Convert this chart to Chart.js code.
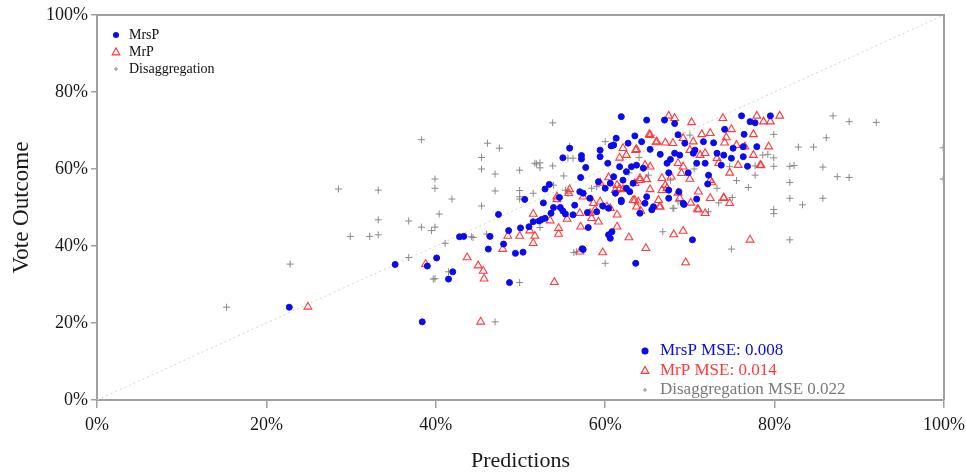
<!DOCTYPE html>
<html>
<head>
<meta charset="utf-8">
<script src="https://cdn.jsdelivr.net/npm/chart.js@4.4.0/dist/chart.umd.min.js"></script>
<style>
  html, body { margin: 0; padding: 0; background: #fff; }
  #wrap { width: 966px; height: 474px; }
</style>
</head>
<body>
<div id="wrap"><canvas id="chart-canvas" width="966" height="474"></canvas></div>
<script>
// [prediction %, vote outcome %] per district
const mrsp = [
  [22.7,24.1],[35.2,35.2],[39.0,34.8],[40.1,36.9],[38.4,20.3],[42.8,42.4],[43.3,42.5],[46.4,42.5],
  [46.2,39.2],[47.4,48.2],[42.0,33.3],[41.5,31.4],[48.6,44.0],[48.0,40.5],[49.4,38.1],[50.3,38.4],
  [48.7,30.5],[50.0,44.7],[50.5,52.1],[51.0,45.0],[51.5,46.3],[52.2,46.5],[52.5,46.9],[52.9,47.2],
  [52.7,51.2],[53.6,48.5],[52.9,54.8],[53.4,56.0],[53.9,50.0],[54.6,52.6],[54.7,50.0],[55.0,49.1],
  [55.3,48.3],[56.4,50.6],[56.2,48.1],[55.0,62.9],[57.2,63.5],[57.2,62.6],[57.7,60.4],[57.1,57.8],
  [57.0,54.1],[57.4,53.7],[57.9,48.7],[57.4,39.1],[59.0,48.9],[61.9,73.6],[55.8,65.4],[58.2,52.4],
  [58.0,44.8],[60.4,42.9],[60.6,42.0],[60.8,43.7],[63.6,35.5],[57.3,39.3],[59.4,64.9],[60.3,61.5],
  [60.7,66.0],[61.3,68.0],[62.7,66.7],[63.5,68.6],[64.9,72.7],[67.0,72.7],[68.2,71.8],[76.1,73.8],
  [77.1,72.3],[77.7,72.0],[79.5,73.8],[74.1,70.3],[76.4,69.0],[68.6,68.9],[61.0,66.2],[59.4,63.2],
  [64.3,67.1],[65.3,65.1],[66.5,63.8],[67.7,62.5],[68.2,64.1],[69.4,66.7],[70.6,64.9],[71.6,67.1],
  [72.8,66.8],[73.2,64.1],[74.0,63.6],[75.1,65.4],[76.3,65.8],[74.9,62.8],[76.3,63.2],[73.7,61.0],
  [71.8,61.5],[72.2,58.4],[61.7,60.6],[62.5,59.3],[63.1,60.6],[63.7,61.0],[64.5,60.2],[61.0,58.0],
  [60.6,56.3],[60.0,55.0],[59.2,56.7],[62.1,57.1],[62.5,55.0],[63.3,56.3],[62.9,54.1],[61.2,53.7],
  [61.9,51.9],[64.9,52.8],[64.7,51.1],[65.7,50.2],[65.5,49.4],[64.1,48.5],[67.5,52.4],[67.5,54.5],
  [69.2,51.1],[70.8,52.2],[67.3,61.5],[67.5,59.0],[68.8,63.6],[70.4,64.1],[70.8,61.5],[69.8,59.0],
  [61.9,51.5],[59.7,50.4],[60.4,49.8],[69.3,50.8],[70.3,41.6],[77.9,65.8],[76.8,60.7],[72.1,56.1],
  [68.7,54.1]
];

const mrp = [
  [24.9,24.2],[38.8,35.3],[43.7,37.0],[45.0,34.9],[45.6,33.5],[45.7,31.5],[45.3,20.3],[47.9,39.2],
  [48.5,42.6],[49.9,42.6],[51.5,48.3],[51.1,44.0],[51.7,42.6],[51.5,40.7],[53.5,46.6],[54.5,44.6],
  [54.5,43.1],[55.5,47.0],[54.0,30.6],[54.3,52.1],[55.7,53.7],[57.0,48.5],[57.1,45.0],[57.0,38.5],
  [58.2,48.5],[58.4,47.2],[57.4,52.8],[58.6,51.1],[59.2,46.3],[61.4,48.1],[61.4,45.0],[62.8,42.2],
  [64.8,39.4],[59.7,38.3],[68.1,43.0],[66.4,50.2],[63.7,50.2],[64.2,49.1],[63.5,51.9],[65.2,69.0],
  [66.0,66.9],[67.5,73.8],[68.2,73.2],[60.4,57.8],[59.4,56.4],[61.7,55.0],[62.1,54.7],[63.6,64.9],
  [62.1,65.4],[61.7,62.9],[64.1,57.1],[64.9,57.3],[65.3,54.7],[55.8,54.7],[54.3,52.8],[60.2,50.2],
  [70.2,72.1],[73.9,73.2],[77.9,73.8],[78.7,72.3],[79.5,72.3],[74.9,70.3],[77.5,69.0],[71.4,69.0],
  [72.4,69.3],[74.1,66.8],[74.3,68.2],[75.5,66.2],[76.5,65.8],[79.3,65.8],[78.3,61.0],[77.5,63.6],
  [75.7,61.0],[74.7,59.0],[73.2,62.8],[73.4,61.5],[71.8,64.1],[71.2,63.6],[70.0,64.9],[70.0,57.4],
  [70.4,67.1],[69.2,68.0],[68.0,66.7],[67.1,66.8],[66.1,67.1],[65.3,68.8],[63.7,65.1],[62.5,63.6],
  [68.6,61.5],[69.2,60.6],[69.0,58.9],[67.8,58.0],[66.7,57.6],[67.1,55.8],[67.3,55.0],[66.7,54.5],
  [65.3,60.6],[64.7,61.0],[64.1,57.6],[63.5,56.3],[61.2,54.5],[61.4,55.8],[63.3,51.9],[63.9,51.5],
  [66.5,50.2],[66.3,51.9],[68.6,53.8],[68.8,52.4],[71.0,54.1],[71.0,49.4],[71.8,48.5],[72.4,52.4],
  [72.4,57.1],[74.0,52.4],[74.7,51.1],[60.6,49.8],[59.4,51.5],[58.8,49.4],[69.2,43.9],[69.5,35.7],
  [77.1,41.6],[70.9,49.6],[70.1,51.2],[80.6,73.8],[78.4,60.9],[74.0,52.6],[72.6,56.5]
];

const disaggregation = [
  [15.3,24.1],[22.8,35.3],[28.5,54.8],[33.2,54.5],[33.2,46.8],[29.9,42.5],[32.2,42.5],[33.2,42.9],
  [36.8,46.5],[38.3,44.9],[36.8,37.0],[38.3,67.6],[39.9,57.4],[39.9,55.0],[41.9,52.2],[40.4,48.3],
  [39.5,44.0],[39.9,44.9],[41.1,40.7],[45.4,63.0],[45.4,60.0],[47.0,58.7],[47.0,54.3],[45.4,50.4],
  [44.4,42.2],[46.0,43.1],[39.9,31.5],[41.5,33.3],[47.0,20.3],[46.1,66.7],[47.5,65.4],[53.8,72.0],
  [51.7,61.5],[52.3,61.6],[52.3,60.3],[49.9,59.7],[49.9,52.8],[49.9,52.2],[55.8,65.9],[55.6,62.8],
  [56.2,62.8],[44.2,42.4],[39.7,31.4],[49.9,30.5],[56.3,38.3],[60.0,35.5],[66.8,43.7],[61.0,66.7],
  [53.9,55.8],[55.3,54.5],[86.9,73.8],[88.8,72.3],[92.0,72.1],[86.1,68.1],[82.8,65.7],[84.6,65.7],
  [79.9,69.0],[79.9,62.9],[79.9,60.7],[81.8,60.7],[82.3,60.9],[85.7,60.5],[87.4,58.0],[88.8,57.8],
  [81.8,56.5],[81.8,52.4],[85.7,52.4],[83.3,50.7],[79.9,49.5],[79.9,48.4],[76.9,55.2],[77.7,58.4],
  [81.8,41.6],[74.9,39.2],[68.1,49.8],[75.0,52.6],[78.6,63.6],[79.2,63.8],[99.9,65.5],[99.9,57.4],
  [60.0,67.1],[70.0,68.8],[77.7,60.8],[67.7,57.1],[58.4,55.0],[59.0,55.4],[74.7,60.6],[65.1,58.4],
  [73.2,55.0],[65.5,68.8],[68.0,49.8],[72.2,48.9],[73.4,51.2],[68.6,51.5],[51.9,61.3],[53.8,60.8],
  [55.1,58.2],[49.9,54.4],[51.5,53.7],[52.3,44.8],[56.6,38.5],[55.6,53.7],[62.8,59.0],[70.5,60.0],
  [75.5,57.0],[64.0,63.0]
];

const seriesNames = ['MrsP', 'MrP', 'Disaggregation'];
const mseLabels = ['MrsP MSE: 0.008', 'MrP MSE: 0.014', 'Disaggregation MSE 0.022'];
const tickValues = [0, 20, 40, 60, 80, 100];

const BLUE = '#0a0af0';
const RED = '#ff3a3a';
const GREY = '#8a8a8a';
const FONT = '"Liberation Serif", "DejaVu Serif", serif';

const toPoints = arr => arr.map(p => ({ x: p[0], y: p[1] }));

// little marker helpers for the two legend boxes
function marker(ctx, kind, x, y, s) {
  ctx.save();
  if (kind === 0) {
    ctx.fillStyle = BLUE;
    ctx.beginPath();
    ctx.arc(x, y, s, 0, Math.PI * 2);
    ctx.fill();
  } else if (kind === 1) {
    ctx.strokeStyle = RED;
    ctx.lineWidth = 1.2;
    const r = s + 1;
    ctx.beginPath();
    ctx.moveTo(x, y - r);
    ctx.lineTo(x + r * 0.95, y + r * 0.7);
    ctx.lineTo(x - r * 0.95, y + r * 0.7);
    ctx.closePath();
    ctx.stroke();
  } else {
    ctx.strokeStyle = GREY;
    ctx.lineWidth = 1;
    ctx.beginPath();
    ctx.moveTo(x - s + 1, y); ctx.lineTo(x + s - 1, y);
    ctx.moveTo(x, y - s + 1); ctx.lineTo(x, y + s - 1);
    ctx.stroke();
  }
  ctx.restore();
}

const frameAndLegends = {
  id: 'frameAndLegends',
  afterDraw(chart) {
    const { ctx, chartArea: a } = chart;
    ctx.save();
    // top and right edges of the box
    ctx.strokeStyle = '#a0a0a0';
    ctx.lineWidth = 2;
    ctx.beginPath();
    ctx.moveTo(a.left, a.top);
    ctx.lineTo(a.right, a.top);
    ctx.lineTo(a.right, a.bottom);
    ctx.stroke();

    // series legend, top left
    ctx.textBaseline = 'middle';
    ctx.textAlign = 'left';
    ctx.font = '14px ' + FONT;
    ctx.fillStyle = '#111';
    seriesNames.forEach((name, i) => {
      const y = a.top + 20 + i * 17;
      marker(ctx, i, a.left + 19, y, 3);
      ctx.fillText(name, a.left + 32, y);
    });

    // error summary, bottom right
    ctx.font = '17px ' + FONT;
    const colors = [BLUE, RED, '#7a7a7a'];
    mseLabels.forEach((txt, i) => {
      const y = a.bottom - 49 + i * 19.5;
      marker(ctx, i, 645, y, i === 0 ? 3.5 : 3);
      ctx.fillStyle = colors[i];
      ctx.fillText(txt, 660, y);
    });
    ctx.restore();
  }
};

const axisStyle = (titleText, isX) => ({
  type: 'linear',
  min: 0,
  max: 100,
  afterBuildTicks: s => { s.ticks = tickValues.map(v => ({ value: v })); },
  afterFit: s => {
    // fixed box sizes so the plot frame sits where it should
    if (isX) { s.height = 74; s.paddingLeft = 0; s.paddingRight = 0; }
    else { s.width = 97; s.paddingTop = 0; s.paddingBottom = 0; }
  },
  ticks: {
    callback: v => v + '%',
    color: '#1a1a1a',
    font: { family: FONT, size: 18 },
    padding: isX ? 6 : 3
  },
  grid: { drawOnChartArea: false, drawTicks: true, tickLength: isX ? 8 : 6, color: '#a0a0a0', lineWidth: 1.5 },
  border: { color: '#a0a0a0', width: 2 },
  title: {
    display: true,
    text: titleText,
    color: '#1a1a1a',
    font: { family: FONT, size: isX ? 22 : 23 },
    padding: isX ? { top: 0, bottom: 0 } : { top: 8, bottom: 0 }
  }
});

const canvas = document.getElementById('chart-canvas');
new Chart(canvas.getContext('2d'), {
  type: 'scatter',
  data: {
    datasets: [
      {
        label: seriesNames[0],
        data: toPoints(mrsp),
        pointStyle: 'circle',
        pointRadius: 3,
        pointBackgroundColor: BLUE,
        pointBorderColor: BLUE,
        pointBorderWidth: 1
      },
      {
        label: seriesNames[1],
        data: toPoints(mrp),
        pointStyle: 'triangle',
        pointRadius: 4.5,
        pointBackgroundColor: 'rgba(255,255,255,0)',
        pointBorderColor: RED,
        pointBorderWidth: 1.1
      },
      {
        label: seriesNames[2],
        data: toPoints(disaggregation),
        pointStyle: 'cross',
        pointRadius: 3.5,
        pointBorderColor: GREY,
        pointBorderWidth: 1
      },
      {
        // 45 degree reference line
        label: 'diagonal',
        type: 'line',
        data: [{ x: 0, y: 0 }, { x: 100, y: 100 }],
        borderColor: '#d2d2d2',
        borderWidth: 1,
        borderDash: [2, 3],
        pointRadius: 0
      }
    ]
  },
  options: {
    responsive: false,
    animation: false,
    layout: { padding: { top: 15, right: 22, left: 0, bottom: 0 } },
    plugins: {
      legend: { display: false },
      tooltip: { enabled: false }
    },
    scales: {
      x: axisStyle('Predictions', true),
      y: axisStyle('Vote Outcome', false)
    }
  },
  plugins: [frameAndLegends]
});
</script>
</body>
</html>
